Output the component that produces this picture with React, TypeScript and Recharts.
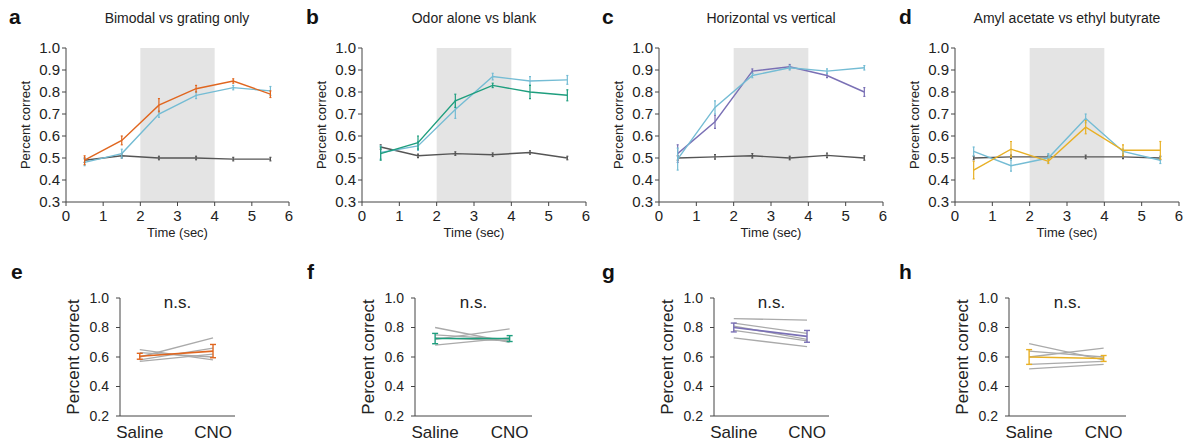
import { LineChart, Line, XAxis, YAxis, ErrorBar, ReferenceArea } from 'recharts';

const FONT = '"Liberation Sans", Arial, sans-serif';
const INK = '#222222';
const AXIS = '#444444';

const ORANGE = '#e0661f';
const BLUE = '#74bcd4';
const GREEN = '#1e9e7e';
const PURPLE = '#7a70b5';
const YELLOW = '#e8b025';
const CHANCE = '#555555';
const ANIMAL = '#aaaaaa';

// time course panels (a-d)
const times = [0.5, 1.5, 2.5, 3.5, 4.5, 5.5];
const timeTicks = [0, 1, 2, 3, 4, 5, 6];
const pctTicks = [0.3, 0.4, 0.5, 0.6, 0.7, 0.8, 0.9, 1.0];

const aBimodal = [0.49, 0.58, 0.74, 0.815, 0.85, 0.79];
const aBimodalErr = [0.02, 0.02, 0.03, 0.015, 0.01, 0.015];
const aGrating = [0.48, 0.52, 0.7, 0.785, 0.82, 0.805];
const aGratingErr = [0.015, 0.02, 0.015, 0.015, 0.01, 0.02];
const aShuffle = [0.49, 0.51, 0.5, 0.5, 0.495, 0.495];
const aShuffleErr = [0.01, 0.01, 0.008, 0.008, 0.008, 0.008];

const bOdor = [0.52, 0.57, 0.76, 0.83, 0.8, 0.785];
const bOdorErr = [0.03, 0.03, 0.03, 0.01, 0.03, 0.025];
const bCtrl = [0.525, 0.555, 0.72, 0.87, 0.85, 0.855];
const bCtrlErr = [0.03, 0.02, 0.04, 0.015, 0.02, 0.02];
const bShuffle = [0.55, 0.51, 0.52, 0.515, 0.525, 0.5];
const bShuffleErr = [0.01, 0.008, 0.008, 0.008, 0.008, 0.008];

const cOrient = [0.52, 0.665, 0.895, 0.915, 0.875, 0.8];
const cOrientErr = [0.04, 0.03, 0.01, 0.01, 0.01, 0.02];
const cCtrl = [0.495, 0.73, 0.875, 0.91, 0.895, 0.91];
const cCtrlErr = [0.05, 0.03, 0.01, 0.01, 0.01, 0.01];
const cShuffle = [0.5, 0.505, 0.51, 0.5, 0.512, 0.5];
const cShuffleErr = [0.01, 0.01, 0.01, 0.008, 0.01, 0.01];

const dCtrl = [0.53, 0.465, 0.5, 0.68, 0.53, 0.49];
const dCtrlErr = [0.02, 0.025, 0.02, 0.02, 0.01, 0.015];
const dOdor = [0.445, 0.54, 0.485, 0.64, 0.535, 0.535];
const dOdorErr = [0.04, 0.035, 0.01, 0.03, 0.025, 0.04];
const dShuffle = [0.5, 0.505, 0.505, 0.505, 0.505, 0.5];
const dShuffleErr = [0.008, 0.008, 0.008, 0.008, 0.008, 0.008];

// saline vs CNO panels (e-h), one [saline, cno] pair per animal
const conditions = ['Saline', 'CNO'];
const cnoTicks = [0.2, 0.4, 0.6, 0.8, 1.0];

const eAnimals = [[0.65, 0.58], [0.63, 0.6], [0.6, 0.73], [0.58, 0.66], [0.57, 0.62]];
const eMean = [0.605, 0.64];
const eErr = [0.02, 0.045];

const fAnimals = [[0.8, 0.7], [0.75, 0.72], [0.72, 0.79], [0.68, 0.73], [0.73, 0.71]];
const fMean = [0.725, 0.725];
const fErr = [0.035, 0.02];

const gAnimals = [[0.86, 0.85], [0.83, 0.76], [0.81, 0.72], [0.78, 0.71], [0.73, 0.67]];
const gMean = [0.8, 0.74];
const gErr = [0.03, 0.04];

const hAnimals = [[0.69, 0.58], [0.64, 0.6], [0.6, 0.66], [0.55, 0.57], [0.52, 0.55]];
const hMean = [0.6, 0.59];
const hErr = [0.05, 0.02];

type Series = { key: string; color: string; values: number[]; errs: number[] };

const letterStyle = (left: number, top: number): React.CSSProperties => ({
  position: 'absolute',
  left,
  top,
  fontFamily: FONT,
  fontWeight: 'bold',
  fontSize: 21,
  lineHeight: '22px',
  color: '#111',
});

function TimePanel({ axisX, plotW, letterX, titleX, letter, title, series }: {
  axisX: number; plotW: number; letterX: number; titleX: number;
  letter: string; title: string; series: Series[];
}) {
  const rows = times.map((t, i) => {
    const row: Record<string, number> = { t };
    series.forEach((s) => {
      row[s.key] = s.values[i];
      row[s.key + 'Err'] = s.errs[i];
    });
    return row;
  });
  const yW = 82;
  return (
    <>
      <div style={letterStyle(letterX, 6)}>{letter}</div>
      <div style={{ position: 'absolute', left: titleX - 150, width: 300, top: 9, textAlign: 'center', fontFamily: FONT, fontSize: 14, lineHeight: '18px', color: INK }}>
        {title}
      </div>
      <div style={{ position: 'absolute', left: axisX - yW, top: 38 }}>
        <LineChart width={yW + plotW + 10} height={10 + 154 + 60} data={rows} margin={{ top: 10, right: 10, bottom: 0, left: 0 }}>
          <ReferenceArea x1={2} x2={4} y1={0.3} y2={1.0} fill="#e4e4e4" fillOpacity={1} stroke="none" />
          <XAxis
            type="number"
            dataKey="t"
            domain={[0, 6]}
            ticks={timeTicks}
            interval={0}
            height={60}
            tickSize={4}
            tickMargin={4}
            stroke={AXIS}
            tick={{ fontSize: 15, fill: INK, fontFamily: FONT }}
            label={{ value: 'Time (sec)', position: 'center', fontSize: 13, fill: INK, fontFamily: FONT }}
          />
          <YAxis
            type="number"
            domain={[0.3, 1.0]}
            ticks={pctTicks}
            interval={0}
            width={yW}
            tickSize={4}
            tickMargin={2}
            stroke={AXIS}
            tickFormatter={(v: number) => v.toFixed(1)}
            tick={{ fontSize: 15, fill: INK, fontFamily: FONT }}
            label={{ value: 'Percent correct', angle: -90, position: 'center', fontSize: 13, fill: INK, fontFamily: FONT }}
          />
          {series.map((s) => (
            <Line key={s.key} dataKey={s.key} stroke={s.color} strokeWidth={1.4} dot={false} isAnimationActive={false}>
              <ErrorBar dataKey={s.key + 'Err'} width={1} stroke={s.color} strokeWidth={1.2} direction="y" />
            </Line>
          ))}
        </LineChart>
      </div>
    </>
  );
}

function CnoPanel({ axisX, plotW, letterX, letter, animals, mean, err, color }: {
  axisX: number; plotW: number; letterX: number; letter: string;
  animals: number[][]; mean: number[]; err: number[]; color: string;
}) {
  const rows = conditions.map((_, i) => {
    const row: Record<string, number> = { x: i, mean: mean[i], err: err[i] };
    animals.forEach((a, k) => {
      row['m' + k] = a[i];
    });
    return row;
  });
  const yW = 94;
  return (
    <>
      <div style={letterStyle(letterX, 261)}>{letter}</div>
      <div style={{ position: 'absolute', left: axisX + plotW / 2 - 40, width: 80, top: 293, textAlign: 'center', fontFamily: FONT, fontSize: 17, lineHeight: '20px', color: INK }}>
        n.s.
      </div>
      <div style={{ position: 'absolute', left: axisX - yW, top: 288 }}>
        <LineChart width={yW + plotW + 10} height={10 + 118 + 30} data={rows} margin={{ top: 10, right: 10, bottom: 0, left: 0 }}>
          <XAxis
            type="number"
            dataKey="x"
            domain={[-0.27, 1.3]}
            ticks={[0, 1]}
            interval={0}
            height={30}
            tickLine={false}
            tickSize={4}
            tickMargin={6}
            stroke={AXIS}
            tickFormatter={(v: number) => conditions[v]}
            tick={{ fontSize: 17, fill: INK, fontFamily: FONT }}
          />
          <YAxis
            type="number"
            domain={[0.2, 1.0]}
            ticks={cnoTicks}
            interval={0}
            width={yW}
            tickSize={4}
            tickMargin={7}
            stroke={AXIS}
            tickFormatter={(v: number) => v.toFixed(1)}
            tick={{ fontSize: 14, fill: INK, fontFamily: FONT }}
            label={{ value: 'Percent correct', angle: -90, position: 'center', fontSize: 17, fill: INK, fontFamily: FONT }}
          />
          {animals.map((_, k) => (
            <Line key={k} dataKey={'m' + k} stroke={ANIMAL} strokeWidth={1.3} dot={false} isAnimationActive={false} />
          ))}
          <Line dataKey="mean" stroke={color} strokeWidth={1.6} dot={false} isAnimationActive={false}>
            <ErrorBar dataKey="err" width={3} stroke={color} strokeWidth={1.4} direction="y" />
          </Line>
        </LineChart>
      </div>
    </>
  );
}

export default function App() {
  return (
    <div style={{ position: 'fixed', left: 0, top: 0, width: 1185, height: 443, background: '#fff', overflow: 'hidden' }}>
      <TimePanel axisX={66} plotW={223} letterX={9} titleX={177} letter="a" title="Bimodal vs grating only"
        series={[
          { key: 'shuffle', color: CHANCE, values: aShuffle, errs: aShuffleErr },
          { key: 'grating', color: BLUE, values: aGrating, errs: aGratingErr },
          { key: 'bimodal', color: ORANGE, values: aBimodal, errs: aBimodalErr },
        ]} />
      <TimePanel axisX={362} plotW={224} letterX={306} titleX={474} letter="b" title="Odor alone vs blank"
        series={[
          { key: 'shuffle', color: CHANCE, values: bShuffle, errs: bShuffleErr },
          { key: 'ctrl', color: BLUE, values: bCtrl, errs: bCtrlErr },
          { key: 'odor', color: GREEN, values: bOdor, errs: bOdorErr },
        ]} />
      <TimePanel axisX={659} plotW={224} letterX={602} titleX={771} letter="c" title="Horizontal vs vertical"
        series={[
          { key: 'shuffle', color: CHANCE, values: cShuffle, errs: cShuffleErr },
          { key: 'orient', color: PURPLE, values: cOrient, errs: cOrientErr },
          { key: 'ctrl', color: BLUE, values: cCtrl, errs: cCtrlErr },
        ]} />
      <TimePanel axisX={955} plotW={224} letterX={899} titleX={1067} letter="d" title="Amyl acetate vs ethyl butyrate"
        series={[
          { key: 'shuffle', color: CHANCE, values: dShuffle, errs: dShuffleErr },
          { key: 'ctrl', color: BLUE, values: dCtrl, errs: dCtrlErr },
          { key: 'odor', color: YELLOW, values: dOdor, errs: dOdorErr },
        ]} />
      <CnoPanel axisX={120} plotW={115} letterX={11} letter="e" animals={eAnimals} mean={eMean} err={eErr} color={ORANGE} />
      <CnoPanel axisX={415} plotW={117} letterX={307} letter="f" animals={fAnimals} mean={fMean} err={fErr} color={GREEN} />
      <CnoPanel axisX={714} plotW={115} letterX={602} letter="g" animals={gAnimals} mean={gMean} err={gErr} color={PURPLE} />
      <CnoPanel axisX={1009} plotW={117} letterX={899} letter="h" animals={hAnimals} mean={hMean} err={hErr} color={YELLOW} />
    </div>
  );
}
